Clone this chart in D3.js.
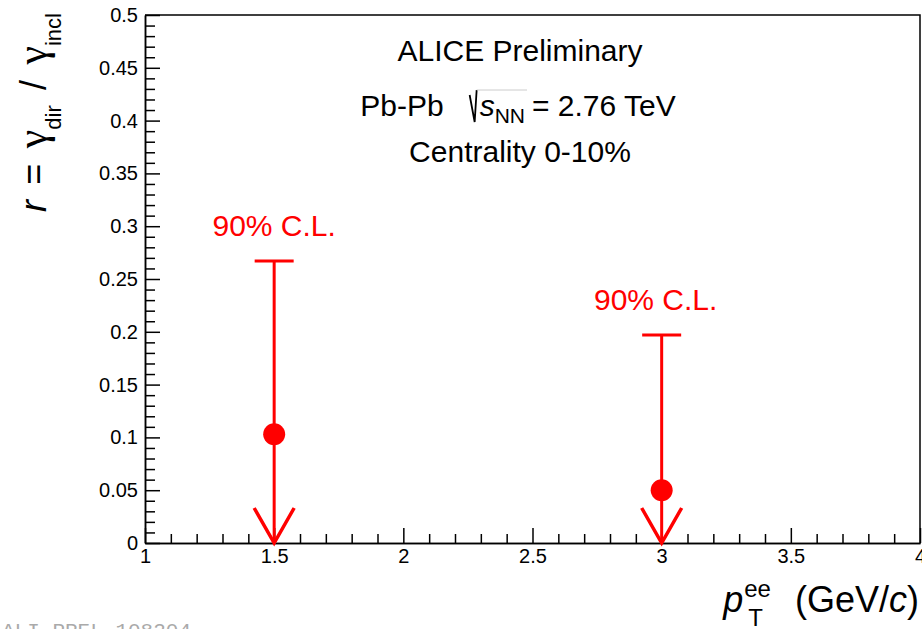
<!DOCTYPE html>
<html>
<head>
<meta charset="utf-8">
<script src="https://cdn.jsdelivr.net/npm/d3@7"></script>
<style>
  body { margin: 0; background: #fff; }
  svg { display: block; font-family: "Liberation Sans", Arial, Helvetica, sans-serif; }
</style>
</head>
<body>
<svg id="chart" width="922" height="629"></svg>
<script>
// Direct-photon ratio upper limits per pT bin
const ptValues = [1.5, 3.0];
const ratioValues = [0.103, 0.050];
const upperLimits = [0.267, 0.197];
const limitLabels = ["90% C.L.", "90% C.L."];

// Axis tick values
const xTickValues = [1, 1.5, 2, 2.5, 3, 3.5, 4];
const yTickValues = [0, 0.05, 0.1, 0.15, 0.2, 0.25, 0.3, 0.35, 0.4, 0.45, 0.5];

// Header / annotation text
const headerTitle = "ALICE Preliminary";
const systemLabel = "Pb-Pb";
const energyLabel = "= 2.76 TeV";
const centralityLabel = "Centrality 0-10%";
const preliminaryId = "ALI-PREL-108204";

const W = 922, H = 629;
const frame = { left: 145, right: 920, top: 15, bottom: 543 };
const RED = "#ff0000";
const labelShift = [0, -6];   // horizontal nudge of each C.L. label

const x = d3.scaleLinear().domain([1, 4]).range([frame.left, frame.right]);
const y = d3.scaleLinear().domain([0, 0.5]).range([frame.bottom, frame.top]);

const svg = d3.select("#chart");
svg.append("rect").attr("width", W).attr("height", H).attr("fill", "#fff");

// ---- axes: major + minor ticks pointing into the frame ----
const xMinor = d3.range(10, 41).filter(i => i % 5 !== 0).map(i => i / 10);
const yMinor = d3.range(0, 51).filter(i => i % 5 !== 0).map(i => i / 100);

function styleAxis(g) {
  g.attr("font-family", null).attr("font-size", null);
  g.selectAll("path, line").attr("stroke", "#000").attr("stroke-width", 1.5);
  g.selectAll("text").attr("fill", "#000").style("font-size", "20px");
}

svg.append("g")
  .attr("transform", `translate(0,${frame.bottom})`)
  .call(d3.axisBottom(x).tickValues(xMinor).tickSize(-9).tickSizeOuter(0).tickFormat(""))
  .call(styleAxis);
svg.append("g")
  .attr("transform", `translate(0,${frame.bottom})`)
  .call(d3.axisBottom(x).tickValues(xTickValues).tickSize(-15).tickSizeOuter(0)
        .tickPadding(6).tickFormat(d3.format("")))
  .call(styleAxis);

svg.append("g")
  .attr("transform", `translate(${frame.left},0)`)
  .call(d3.axisLeft(y).tickValues(yMinor).tickSize(-10).tickSizeOuter(0).tickFormat(""))
  .call(styleAxis);
svg.append("g")
  .attr("transform", `translate(${frame.left},0)`)
  .call(d3.axisLeft(y).tickValues(yTickValues).tickSize(-15).tickSizeOuter(0)
        .tickPadding(7).tickFormat(d3.format("")))
  .call(styleAxis);

// top and right frame edges
svg.append("path")
  .attr("d", `M${frame.left},${frame.top}H${frame.right}V${frame.bottom}`)
  .attr("fill", "none").attr("stroke", "#000").attr("stroke-width", 1.5);

// ---- upper-limit arrows with central values ----
const limits = ptValues.map((pt, i) => ({
  pt, value: ratioValues[i], upper: upperLimits[i], label: limitLabels[i], shift: labelShift[i]
}));

const marks = svg.append("g").selectAll("g").data(limits).join("g");

marks.append("line")
  .attr("x1", d => x(d.pt)).attr("x2", d => x(d.pt))
  .attr("y1", d => y(d.upper)).attr("y2", y(0) - 2)
  .attr("stroke", RED).attr("stroke-width", 3);

marks.append("line")
  .attr("x1", d => x(d.pt) - 19.5).attr("x2", d => x(d.pt) + 19.5)
  .attr("y1", d => y(d.upper)).attr("y2", d => y(d.upper))
  .attr("stroke", RED).attr("stroke-width", 3);

marks.append("path")
  .attr("d", d => `M${x(d.pt) - 20},${y(0) - 35}L${x(d.pt)},${y(0)}L${x(d.pt) + 20},${y(0) - 35}`)
  .attr("fill", "none").attr("stroke", RED).attr("stroke-width", 3.5);

marks.append("circle")
  .attr("cx", d => x(d.pt)).attr("cy", d => y(d.value)).attr("r", 11)
  .attr("fill", RED);

marks.append("text")
  .attr("x", d => x(d.pt) + d.shift).attr("y", d => y(d.upper) - 25)
  .attr("text-anchor", "middle").attr("fill", RED).style("font-size", "30px")
  .text(d => d.label);

// ---- header text ----
const headerX = 520;
svg.append("text").attr("x", headerX).attr("y", 61).attr("text-anchor", "middle")
  .style("font-size", "30px").text(headerTitle);
svg.append("text").attr("x", headerX).attr("y", 162).attr("text-anchor", "middle")
  .style("font-size", "30px").text(centralityLabel);

// Pb-Pb sqrt(s_NN) line, assembled from pieces and centred
(function () {
  const base = 116;
  const g = svg.append("g");
  let cx = 0;
  const piece = (txt, size, dy, italic) => {
    const t = g.append("text").attr("x", cx).attr("y", base + dy)
      .style("font-size", size + "px").style("font-style", italic ? "italic" : "normal").text(txt);
    cx += t.node().getComputedTextLength();
    return t;
  };
  piece(systemLabel, 30, 0, false);
  cx += 26;
  const rootX = cx;
  cx += 10;
  piece("s", 30, 0, true);
  piece("NN", 21, 7, false);
  const sEnd = cx;
  cx += 7;
  piece(energyLabel, 30, 0, false);
  g.append("path")
    .attr("d", `M${rootX},${base - 21}L${rootX + 5},${base + 6}L${rootX + 7},${base - 26}`)
    .attr("fill", "none").attr("stroke", "#000").attr("stroke-width", 1.8);
  g.append("line")
    .attr("x1", rootX + 7).attr("x2", sEnd + 2).attr("y1", base - 26).attr("y2", base - 26)
    .attr("stroke", "#ccc").attr("stroke-width", 1);
  g.attr("transform", `translate(${headerX - 2 - cx / 2},0)`);
})();

// ---- y-axis title (rotated, reads bottom to top) ----
(function () {
  const g = svg.append("g").attr("transform", "translate(46,0) rotate(-90)");
  const startY = 212, endY = 13;
  const pieces = [
    { t: "r", size: 36, dy: 0, italic: true, gap: true },
    { t: "=", size: 36, dy: 0, gap: true },
    { t: "\u03b3", size: 42, dy: 0, greek: true },
    { t: "dir", size: 22, dy: 15, gap: true },
    { t: "/", size: 36, dy: 0, gap: true },
    { t: "\u03b3", size: 42, dy: 0, greek: true },
    { t: "incl", size: 22, dy: 15 }
  ];
  const nodes = pieces.map(p => {
    const t = g.append("text").attr("y", p.dy)
      .style("font-size", p.size + "px")
      .style("font-style", p.italic ? "italic" : "normal")
      .text(p.t);
    if (p.greek) t.style("font-family", "'Liberation Serif', 'DejaVu Serif', serif");
    return { p, t, w: t.node().getComputedTextLength() };
  });
  const natural = d3.sum(nodes, n => n.w);
  const nGaps = pieces.filter(p => p.gap).length;
  const gap = Math.max(4, ((startY - endY) - natural) / nGaps);
  let lx = -startY;
  nodes.forEach(n => {
    n.t.attr("x", lx);
    lx += n.w + (n.p.gap ? gap : 0);
  });
})();

// ---- x-axis title ----
(function () {
  const base = 612;
  const g = svg.append("g");
  let cx = 0;
  const p = g.append("text").attr("x", 0).attr("y", base)
    .style("font-size", "36px").style("font-style", "italic").text("p");
  cx += p.node().getComputedTextLength() + 1;
  const sup = g.append("text").attr("x", cx).attr("y", base - 15).style("font-size", "24px").text("ee");
  const sub = g.append("text").attr("x", cx + 4).attr("y", base + 14).style("font-size", "24px").text("T");
  cx += Math.max(sup.node().getComputedTextLength(), sub.node().getComputedTextLength() + 4);
  cx += 24;
  const unit = g.append("text").attr("x", cx).attr("y", base).style("font-size", "36px");
  unit.append("tspan").text("(GeV/");
  unit.append("tspan").style("font-style", "italic").text("c");
  unit.append("tspan").text(")");
  cx += unit.node().getComputedTextLength();
  g.attr("transform", `translate(${919 - cx},0)`);
})();

// ---- preliminary figure id ----
svg.append("text").attr("x", 2).attr("y", 637)
  .style("font-family", "'Liberation Mono', 'DejaVu Sans Mono', monospace")
  .style("font-size", "21px").attr("fill", "#aaa").text(preliminaryId);
</script>
</body>
</html>
